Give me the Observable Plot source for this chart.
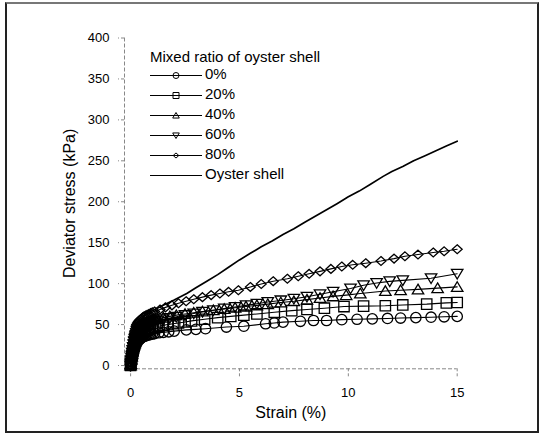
<!DOCTYPE html>
<html><head><meta charset="utf-8">
<script src="https://cdn.jsdelivr.net/npm/d3@7"></script>
<script src="https://cdn.jsdelivr.net/npm/@observablehq/plot@0.6"></script>
<style>
body{margin:0;background:#fff;}
#wrap{position:relative;width:546px;height:434px;overflow:hidden;font-family:"Liberation Sans",Arial,sans-serif;color:#000;}
#border{position:absolute;left:5px;top:2px;width:530px;height:427px;border:2px solid #222;border-top-color:#777;}
#wrap svg{position:absolute;left:0;top:0;}
.lg{position:absolute;white-space:nowrap;font-size:15px;}
</style></head><body><div id="wrap"><div id="border"></div></div>
<script>
// ---- data ----
const xTicks = [0, 5, 10, 15];
const yTicks = [0, 50, 100, 150, 200, 250, 300, 350, 400];
const legendTitle = "Mixed ratio of oyster shell";
const seriesNames = ["0%", "20%", "40%", "60%", "80%", "Oyster shell"];

// [strain %, deviator stress kPa]
const ratio0 = [[0,0],[0.01,2],[0.03,5],[0.05,8],[0.08,12],[0.1,15],[0.12,17],[0.14,19],[0.17,21],[0.19,23],[0.22,25],[0.25,27],[0.28,28.5],[0.32,30],[0.36,31],[0.4,32],[0.45,33],[0.5,34],[0.56,35],[0.62,35.5],[0.69,36.2],[0.76,37],[0.84,37.5],[0.92,38],[1.0,38.5],[1.1,39],[1.3,40],[1.5,40.5],[1.75,41.2],[2.0,42],[2.56,43.5],[3.0,44.2],[3.44,45],[4.4,47],[5.2,48],[6.2,51],[6.6,52],[7.0,53],[7.8,54],[8.4,55],[9.0,55],[9.7,56],[10.4,56.5],[11.1,57],[11.8,57.5],[12.4,58],[13.1,58.5],[13.8,59],[14.4,59.5],[15.0,60]];
const ratio20 = [[0,0],[0.01,2],[0.03,6],[0.05,9],[0.07,12],[0.09,15],[0.11,18],[0.13,20.5],[0.16,23],[0.19,25.5],[0.22,28],[0.25,30],[0.29,32],[0.33,33.5],[0.37,35],[0.41,36.5],[0.46,38],[0.51,39],[0.56,40],[0.62,41],[0.68,42],[0.75,43],[0.82,44],[0.9,45],[1.0,46],[1.15,47],[1.3,48],[1.5,49],[1.7,50],[1.95,51],[2.2,52],[2.5,53.2],[2.8,54.5],[3.4,56.5],[4.0,58.5],[4.6,60],[5.2,61.5],[5.8,63],[6.6,65],[7.4,67],[8.1,68.5],[8.9,70],[9.8,72],[10.7,72.5],[11.7,73],[12.5,74],[13.6,75],[14.5,76.5],[15.0,77]];
const ratio40 = [[0,0],[0.01,2],[0.03,7],[0.05,11],[0.06,14],[0.08,17.5],[0.1,21],[0.12,24.5],[0.15,28],[0.17,31],[0.2,34],[0.23,36.5],[0.26,39],[0.29,41],[0.33,43],[0.37,44.5],[0.41,46],[0.45,47.3],[0.5,48.5],[0.55,49.5],[0.6,50.5],[0.66,51.5],[0.72,52.5],[0.79,53.3],[0.86,54],[0.93,54.8],[1.0,55.5],[1.12,56.2],[1.25,57],[1.5,58.5],[1.8,60],[2.1,61.5],[2.5,63],[2.9,64.5],[3.3,66],[3.8,67.5],[4.3,69],[4.8,70.5],[5.3,72],[5.8,73.5],[6.3,75],[6.9,77],[7.5,78.5],[8.1,80.5],[8.7,82.5],[9.3,84.5],[9.9,86],[10.55,88],[11.7,91],[12.4,92],[13.2,93],[14.1,94.5],[15.0,96]];
const ratio60 = [[0,0],[0.01,2],[0.03,6],[0.05,9.5],[0.06,12],[0.08,15.5],[0.1,19],[0.12,22.5],[0.15,26],[0.17,29],[0.2,32],[0.23,34.5],[0.26,37],[0.29,39],[0.33,41],[0.37,42.5],[0.41,44],[0.45,45.3],[0.5,46.5],[0.55,47.5],[0.6,48.5],[0.66,49.5],[0.72,50.5],[0.79,51.3],[0.86,52],[0.93,52.8],[1.0,53.5],[1.12,54.2],[1.25,55],[1.5,56.5],[1.8,58],[2.1,59.5],[2.5,61.5],[2.9,63.5],[3.3,65.5],[3.8,67.5],[4.3,69.5],[4.8,71.5],[5.3,73.5],[5.8,75.5],[6.3,77.5],[6.9,79.5],[7.5,81.5],[8.1,84],[8.7,87],[9.3,90],[10.1,94],[10.7,98],[11.3,100.7],[11.9,102.8],[12.5,104],[13.8,106.5],[15.0,112]];
const ratio80 = [[0,0],[0.01,3],[0.03,9],[0.045,13.5],[0.06,18],[0.08,22.5],[0.1,27],[0.12,31],[0.14,35],[0.165,38.5],[0.19,42],[0.22,45],[0.25,48],[0.28,50],[0.32,52],[0.36,53.5],[0.4,55],[0.45,56.3],[0.5,57.5],[0.56,58.8],[0.62,60],[0.69,61],[0.76,62],[0.84,63],[0.92,64],[1.0,65],[1.1,66],[1.35,68.5],[1.6,71],[1.9,73.5],[2.2,76],[2.55,78.5],[2.9,81],[3.3,83.5],[3.7,86],[4.1,88],[4.5,90],[4.95,92],[5.5,96],[6.0,99.5],[6.55,103],[7.2,106],[7.7,109],[8.2,112],[8.7,115],[9.2,118],[9.7,121],[10.2,123],[10.8,125],[11.5,127.7],[12.1,130.6],[12.6,133.4],[13.2,135.5],[13.9,138],[14.4,139.5],[15.0,142]];
const oysterShell = [[0,0],[0.04,12],[0.1,26],[0.2,40],[0.3,48],[0.45,55],[0.6,60],[0.75,63],[1.0,67],[1.5,73.5],[2.0,80],[2.58,88],[3.0,95],[3.5,103],[4.0,111],[4.5,120],[5.0,129],[5.5,137],[6.0,145],[6.5,152],[7.0,160],[7.5,167],[8.0,175],[8.86,188],[9.5,198],[10.0,206],[10.5,213],[11.0,221],[11.6,231],[12.0,237],[12.5,243],[13.0,250],[13.5,256],[14.0,262],[14.5,268],[15.0,274]];

// ---- symbols ----
const rad = size => Math.sqrt(size / Math.PI);
const symCircle = {draw(c, s){ const r = rad(s); c.moveTo(r, 0); c.arc(0, 0, r, 0, 2*Math.PI); }};
const symSquare = {draw(c, s){ const r = rad(s); c.rect(-r, -r, 2*r, 2*r); }};
const symTriUp = {draw(c, s){ const r = rad(s); c.moveTo(0, -r); c.lineTo(r*1.1, r*0.85); c.lineTo(-r*1.1, r*0.85); c.closePath(); }};
const symTriDown = {draw(c, s){ const r = rad(s); c.moveTo(0, r); c.lineTo(r*1.1, -r*0.85); c.lineTo(-r*1.1, -r*0.85); c.closePath(); }};
const symDiamond = {draw(c, s){ const r = rad(s); c.moveTo(0, -r*0.85); c.lineTo(r*0.95, 0); c.lineTo(0, r*0.85); c.lineTo(-r*0.95, 0); c.closePath(); }};

const seriesData = [ratio0, ratio20, ratio40, ratio60, ratio80, oysterShell];
const seriesSymbols = [symCircle, symSquare, symTriUp, symTriDown, symDiamond, null];

const toRows = (arr, name) => arr.map(([strain, stress]) => ({series: name, strain, stress}));

const xDomain = [-0.28, 15];
const yDomain = [-4, 400];
const font = '"Liberation Sans", Arial, sans-serif';

const marks = [
  Plot.ruleX([xDomain[0]], {stroke: "#888", strokeDasharray: "4,2"}),
  Plot.ruleY([yDomain[0]], {stroke: "#888", strokeDasharray: "4,2"}),
  Plot.axisY({ticks: yTicks, tickSize: 6, tickPadding: 9, stroke: "#888", strokeDasharray: "3,2", fill: "#000",
    label: "Deviator stress (kPa)", labelAnchor: "center", labelArrow: "none", labelOffset: 61}),
  Plot.axisX({ticks: xTicks, tickSize: 8, tickPadding: 11, stroke: "#888", strokeDasharray: "3,2", fill: "#000",
    label: "Strain (%)", labelAnchor: "center", labelArrow: "none", labelOffset: 49})
];
seriesData.forEach((arr, i) => {
  const rows = toRows(arr, seriesNames[i]);
  marks.push(Plot.line(rows, {x: "strain", y: "stress", stroke: "#000", strokeWidth: i === 5 ? 1.7 : 1.1}));
});
seriesData.forEach((arr, i) => {
  if (!seriesSymbols[i]) return;
  const rows = toRows(arr, seriesNames[i]);
  marks.push(Plot.dot(rows, {x: "strain", y: "stress", symbol: seriesSymbols[i], r: 5.2, stroke: "#000", strokeWidth: 1.3, fill: "none"}));
});

const chart = Plot.plot({
  width: 546, height: 434,
  marginLeft: 124, marginRight: 89.3, marginTop: 37.5, marginBottom: 65.7,
  style: {fontFamily: font, fontSize: "13px", background: "transparent", color: "#000"},
  x: {domain: xDomain},
  y: {domain: yDomain},
  marks
});
document.getElementById("wrap").appendChild(chart);
d3.select(chart).selectAll('[aria-label="y-axis label"] text, [aria-label="x-axis label"] text').style("font-size", "16px");

// ---- legend ----
const wrap = d3.select("#wrap");
wrap.append("div").attr("class", "lg").style("left", "150px").style("top", "48px").style("line-height", "18px").text(legendTitle);
seriesNames.forEach((name, i) => {
  const cy = 74 + 20 * i;
  const row = wrap.append("div").attr("class", "lg").style("left", "148px").style("top", (cy - 10) + "px").style("height", "20px").style("line-height", "20px");
  const svg = row.append("svg").attr("width", 56).attr("height", 20).style("position", "absolute").style("left", "0px").style("top", "1px");
  svg.append("line").attr("x1", 2).attr("x2", 54).attr("y1", 10.5).attr("y2", 10.5).attr("stroke", "#000").attr("stroke-width", 1);
  if (seriesSymbols[i]) {
    svg.append("path").attr("transform", "translate(28,10.5)").attr("d", d3.symbol(seriesSymbols[i], Math.PI * 9)()).attr("fill", "none").attr("stroke", "#000").attr("stroke-width", 1);
  }
  row.append("span").style("position", "absolute").style("left", "57px").style("top", "0px").text(name);
});
</script></body></html>
